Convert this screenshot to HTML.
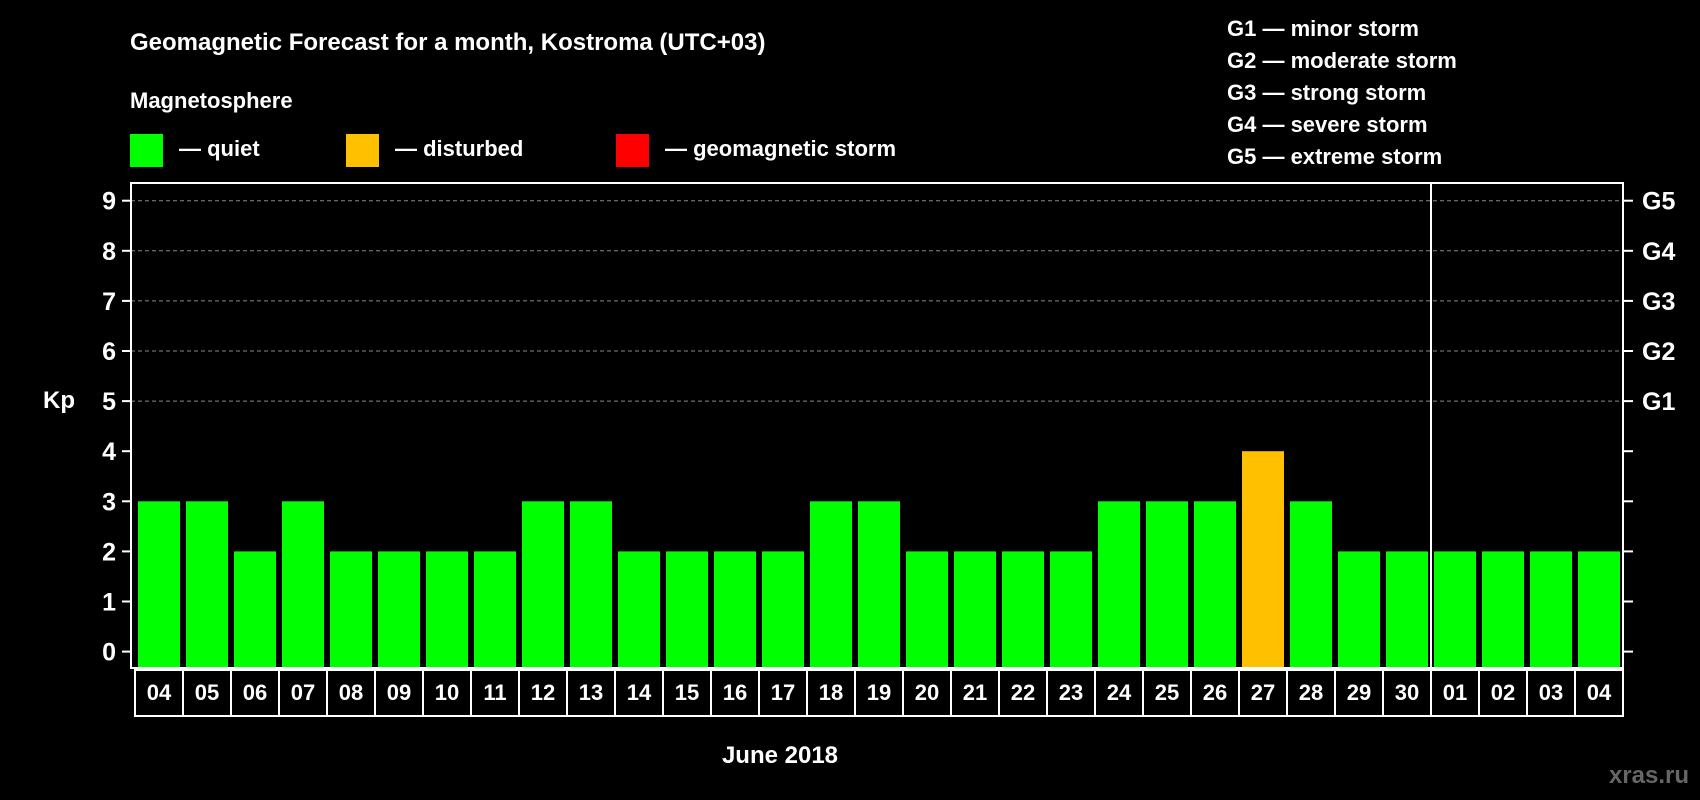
<!DOCTYPE html>
<html><head><meta charset="utf-8"><style>
html,body{margin:0;padding:0;background:#000;}
svg{display:block;font-family:"Liberation Sans",Arial,sans-serif;font-weight:bold;}
</style></head><body>
<svg id="chart" width="1700" height="800" viewBox="0 0 1700 800" xmlns="http://www.w3.org/2000/svg">
<rect width="1700" height="800" fill="#000"/>
<text x="130" y="50" font-size="24" fill="#fff">Geomagnetic Forecast for a month, Kostroma (UTC+03)</text>
<text x="130" y="108" font-size="22" fill="#fff">Magnetosphere</text>
<rect x="130" y="134" width="33" height="33" fill="#00ff00"/>
<text x="179" y="156" font-size="22" fill="#fff">— quiet</text>
<rect x="346" y="134" width="33" height="33" fill="#ffc000"/>
<text x="395" y="156" font-size="22" fill="#fff">— disturbed</text>
<rect x="616" y="134" width="33" height="33" fill="#ff0000"/>
<text x="665" y="156" font-size="22" fill="#fff">— geomagnetic storm</text>
<g font-size="22" fill="#fff">
<text x="1227" y="36">G1 — minor storm</text>
<text x="1227" y="68">G2 — moderate storm</text>
<text x="1227" y="100">G3 — strong storm</text>
<text x="1227" y="132">G4 — severe storm</text>
<text x="1227" y="164">G5 — extreme storm</text>
</g>
<text x="43" y="408" font-size="24" fill="#fff">Kp</text>
<text x="780" y="763" font-size="24" fill="#fff" text-anchor="middle">June 2018</text>
<text x="1689" y="783" font-size="24" fill="#666" text-anchor="end">xras.ru</text>
<g id="plot"></g>
</svg>
<script>
const days = ["04","05","06","07","08","09","10","11","12","13","14","15","16","17","18","19","20","21","22","23","24","25","26","27","28","29","30","01","02","03","04"];
const kpValues = [3,3,2,3,2,2,2,2,3,3,2,2,2,2,3,3,2,2,2,2,3,3,3,4,3,2,2,2,2,2,2];
const yTicks = [0,1,2,3,4,5,6,7,8,9];
const gLabels = ["G1","G2","G3","G4","G5"];
const gLevels = [5,6,7,8,9];

const NS = "http://www.w3.org/2000/svg";
const g = document.getElementById("plot");
const L = 131, R = 1623, T = 183, B = 668;
const slot0 = 135, slotW = 48;
const y = v => 651.6 - v * 50.1;
const xSlot = i => slot0 + i * slotW;
function mk(tag, attrs){const e=document.createElementNS(NS,tag);for(const k in attrs)e.setAttribute(k,attrs[k]);g.appendChild(e);return e;}

gLevels.forEach((lv,i)=>{
  const ln = mk("line",{x1:L,x2:R,y1:y(lv),y2:y(lv),stroke:"#888","stroke-width":1,"stroke-dasharray":"4,3"});
  
  
});
kpValues.forEach((v,i)=>{
  const c = v>=5 ? "#ff0000" : (v>=4 ? "#ffc000" : "#00ff00");
  const r = mk("rect",{x:xSlot(i)+3,y:y(v),width:42,height:B-y(v),fill:c});
  
  
});
const fr = mk("rect",{x:L,y:T,width:R-L,height:B-T,fill:"none",stroke:"#fff","stroke-width":2});


const sep = mk("line",{x1:xSlot(27),x2:xSlot(27),y1:T,y2:716,stroke:"#fff","stroke-width":2});


yTicks.forEach(t=>{
  const tk = mk("line",{x1:L-9,x2:L,y1:y(t),y2:y(t),stroke:"#fff","stroke-width":2});
  
  
  const tr = mk("line",{x1:R,x2:R+10,y1:y(t),y2:y(t),stroke:"#fff","stroke-width":2});
  
  
  const tx = mk("text",{x:116,y:y(t)+9,"font-size":25,fill:"#fff","text-anchor":"end"});
  tx.textContent = t;
  
  
});
gLabels.forEach((lab,i)=>{
  const tx = mk("text",{x:1642,y:y(gLevels[i])+9,"font-size":25,fill:"#fff"});
  tx.textContent = lab;
  
  
});
days.forEach((d,i)=>{
  const bx = mk("rect",{x:xSlot(i),y:B+2,width:slotW,height:716-B-2,fill:"none",stroke:"#fff","stroke-width":2});
  
  
  const tx = mk("text",{x:xSlot(i)+slotW/2,y:700,"font-size":22,fill:"#fff","text-anchor":"middle"});
  tx.textContent = d;
  
  
});
</script>
</body></html>
